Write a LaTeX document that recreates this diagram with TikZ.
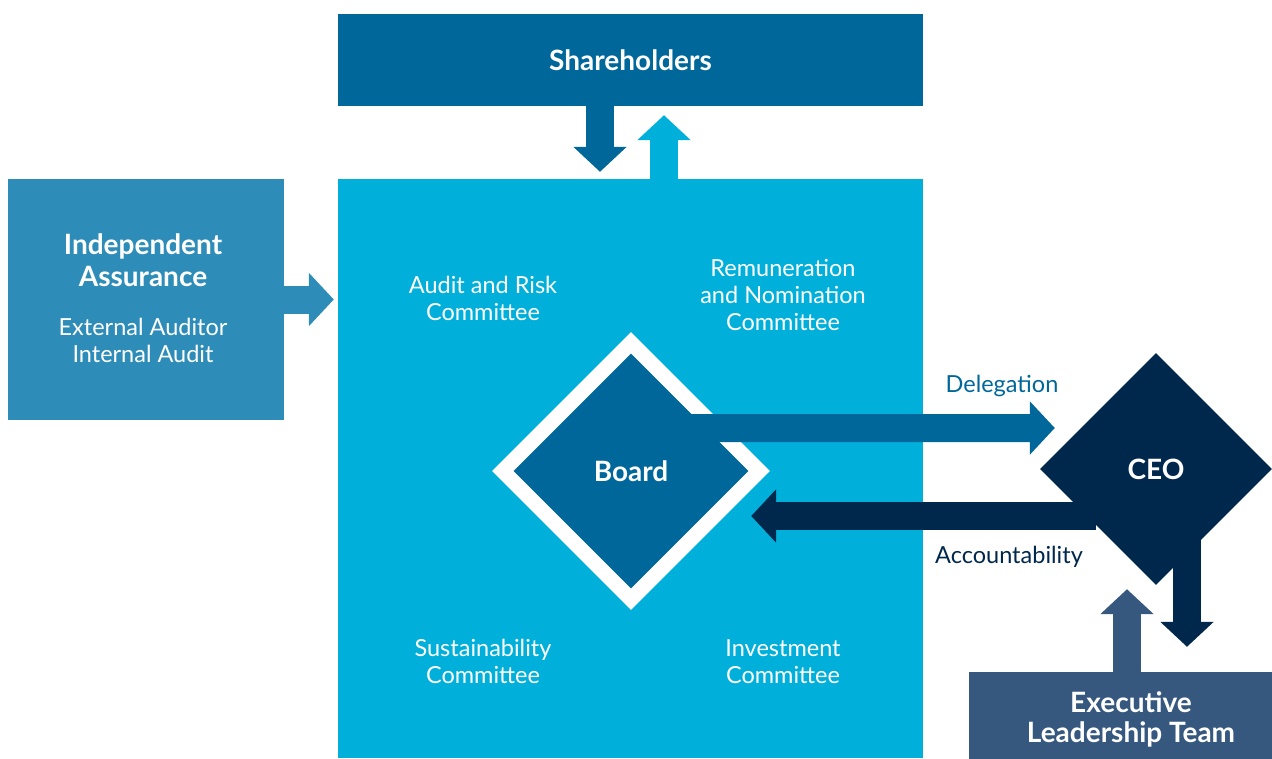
\documentclass[tikz,border=0pt]{standalone}
\usepackage{fontspec}
\setmainfont{Lato}
\usetikzlibrary{arrows.meta,shapes.geometric,calc}
\definecolor{shareblue}{HTML}{00679A}
\definecolor{boardblue}{HTML}{00B0DA}
\definecolor{assureblue}{HTML}{2E8DB8}
\definecolor{ceonavy}{HTML}{00284D}
\definecolor{eltblue}{HTML}{36587E}
\tikzset{
	box/.style={rectangle, inner sep=0pt, text=white, align=center},
	diam/.style={diamond, aspect=1, inner sep=0pt, text=white},
	blockarrow/.style={line width=28pt, -{Triangle[length=25pt,width=52pt]}},
	txt/.style={align=center, font=\fontsize{23.5}{27}\selectfont},
	head/.style={align=center, font=\fontsize{28}{31}\selectfont\bfseries},
}

\begin{document}
\begin{tikzpicture}[x=1pt, y=-1pt]
			%%%%% START %%%%%
			
			\useasboundingbox (0, 0) rectangle (1272, 758);
			
			\node[box, head, fill=shareblue, minimum width=585pt, minimum height=92pt] (shareholders) at (630.5, 60) {Shareholders};
			\node[box, fill=boardblue, minimum width=585pt, minimum height=579pt] (panel) at (630.5, 468.5) {};
			\node[box, fill=assureblue, minimum width=276pt, minimum height=241pt] (assurance) at (146, 299.5) {};
			\node[head, text=white, font=\fontsize{28}{32}\selectfont\bfseries] (assurance title) at (143, 260) {Independent\\Assurance};
			\node[txt, text=white] (assurance text) at (143, 340.5) {External Auditor\\Internal Audit};
			
			\node[txt, text=white] (audit) at (483, 298.5) {Audit and Risk\\Committee};
			\node[txt, text=white] (remuneration) at (783, 294.5) {Remuneration\\and Nomination\\Committee};
			\node[txt, text=white] (sustainability) at (483, 661.5) {Sustainability\\Committee};
			\node[txt, text=white] (investment) at (783, 661.5) {Investment\\Committee};
			
			\node[diam, fill=white, minimum size=278pt] (board frame) at (631, 471) {};
			\node[diam, head, fill=shareblue, minimum size=235pt] (board) at (631, 471) {Board};
			
			\node[diam, head, fill=ceonavy, minimum size=232pt] (ceo) at (1156, 469) {CEO};
			\node[box, head, fill=eltblue, minimum width=324pt, minimum height=94pt, font=\fontsize{28}{30}\selectfont\bfseries] (elt) at (1131, 719) {Executive\\Leadership Team};
			
			% shareholders and board
			\draw[blockarrow, shareblue, shorten >=7pt] ([xshift=-30.5pt]shareholders.south) -- ([xshift=-30.5pt]panel.north);
			\draw[blockarrow, boardblue, shorten >=9pt] ([xshift=33.5pt]panel.north) -- ([xshift=33.5pt]shareholders.south);
			
			% assurance
			\draw[blockarrow, assureblue, shorten >=4pt] (assurance.east) -- (assurance.east -| panel.west);
			
			% board and ceo
			\draw[blockarrow, shareblue] ($(board.north east)+(0, 16)$) -- ($(ceo.west)+(15, -41)$);
			\draw[blockarrow, ceonavy] ($(ceo.center)+(-60, 47)$) -- ($(board.east)+(2.5, 45)$);
			\node[txt, text=shareblue] (delegation) at (1002, 386) {Delegation};
			\node[txt, text=ceonavy] (accountability) at (1009, 557) {Accountability};
			
			% ceo and executive team
			\draw[blockarrow, ceonavy] ($(ceo.center)+(31, 70)$) -- ($(elt.north)+(56, -25)$);
			\draw[blockarrow, eltblue] ($(elt.north)+(-4, 0)$) -- ($(ceo.south)+(-29, 4)$);
			
			%%%%% END %%%%%
\end{tikzpicture}
\end{document}
